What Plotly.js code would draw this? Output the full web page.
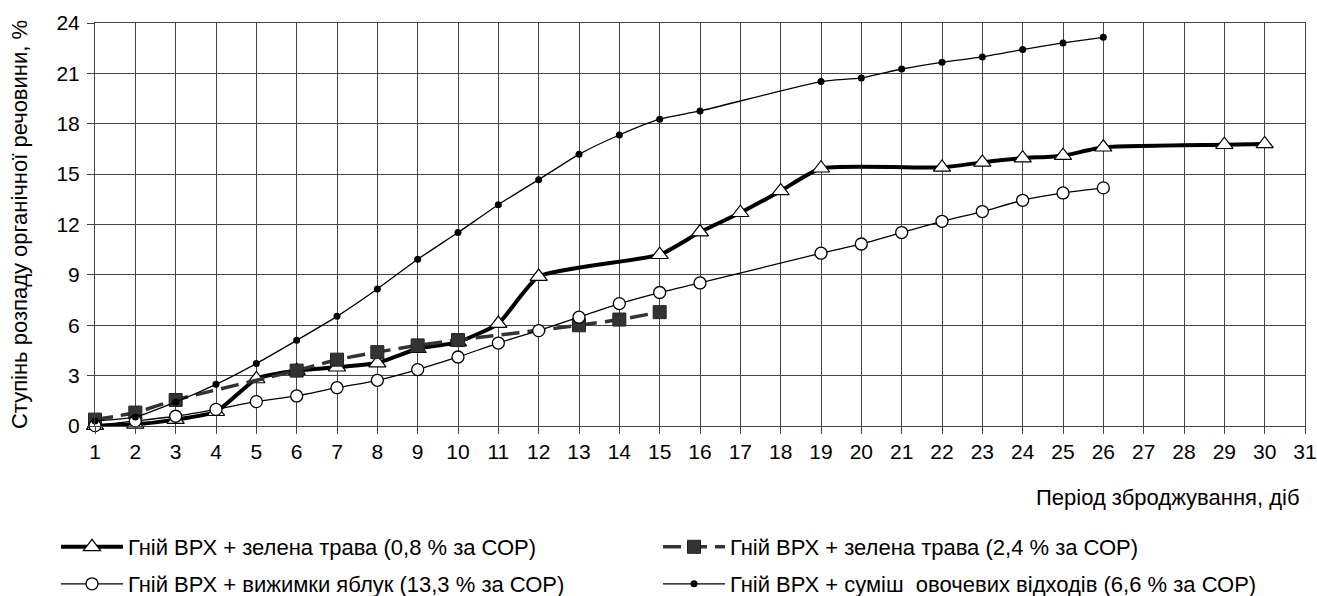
<!DOCTYPE html>
<html>
<head>
<meta charset="utf-8">
<script src="https://cdn.plot.ly/plotly-3.0.1.min.js"></script>
<style>
  html, body { margin: 0; padding: 0; background: #ffffff; }
  #chart { width: 1317px; height: 596px; }
</style>
</head>
<body>
<div id="chart"></div>
<script>
// ---- Data ----
const seriesNames = [
  "Гній ВРХ + зелена трава (0,8 % за СОР)",
  "Гній ВРХ + зелена трава (2,4 % за СОР)",
  "Гній ВРХ + вижимки яблук (13,3 % за СОР)",
  "Гній ВРХ + суміш  овочевих відходів (6,6 % за СОР)"
];

const grass08Days = [1, 2, 3, 4, 5, 6, 7, 8, 9, 10, 11, 12, 15, 16, 17, 18, 19, 22, 23, 24, 25, 26, 29, 30];
const grass08Vals = [0.02, 0.1, 0.38, 0.85, 2.8, 3.3, 3.5, 3.75, 4.6, 5.0, 6.1, 8.9, 10.2, 11.55, 12.7, 14.0, 15.35, 15.4, 15.7, 15.95, 16.1, 16.6, 16.75, 16.8];

const grass24Days = [1, 2, 3, 6, 7, 8, 9, 10, 13, 14, 15];
const grass24Vals = [0.38, 0.8, 1.55, 3.3, 3.95, 4.4, 4.8, 5.12, 6.0, 6.34, 6.78];

const appleDays = [1, 2, 3, 4, 5, 6, 7, 8, 9, 10, 11, 12, 13, 14, 15, 16, 19, 20, 21, 22, 23, 24, 25, 26];
const appleVals = [0.02, 0.3, 0.58, 0.99, 1.45, 1.79, 2.28, 2.72, 3.36, 4.11, 4.94, 5.68, 6.48, 7.29, 7.95, 8.52, 10.29, 10.84, 11.52, 12.19, 12.77, 13.44, 13.88, 14.18];

const vegDays = [1, 2, 3, 4, 5, 6, 7, 8, 9, 10, 11, 12, 13, 14, 15, 16, 19, 20, 21, 22, 23, 24, 25, 26];
const vegVals = [0.3, 0.54, 1.43, 2.48, 3.72, 5.1, 6.53, 8.16, 9.93, 11.52, 13.18, 14.67, 16.18, 17.33, 18.27, 18.76, 20.51, 20.73, 21.26, 21.66, 21.98, 22.42, 22.81, 23.15];

const xTickVals = [1,2,3,4,5,6,7,8,9,10,11,12,13,14,15,16,17,18,19,20,21,22,23,24,25,26,27,28,29,30,31];
const yTickVals = [0, 3, 6, 9, 12, 15, 18, 21, 24];

const yTitle = "Ступінь розпаду органічної речовини, %";
const xTitle = "Період зброджування, діб";

// ---- Traces ----
const FONT = "Liberation Sans, Arial, sans-serif";
const GRID = "#444444";
const traces = [
  {
    x: grass08Days, y: grass08Vals, name: seriesNames[0], legend: "legend",
    type: "scatter", mode: "lines+markers", cliponaxis: false,
    line: { color: "#000000", width: 4, shape: "spline", smoothing: 0.5 },
    marker: { symbol: "triangle-up", size: 15, color: "#ffffff", line: { color: "#000000", width: 1.2 } }
  },
  {
    x: grass24Days, y: grass24Vals, name: seriesNames[1], legend: "legend2",
    type: "scatter", mode: "lines+markers", cliponaxis: false,
    line: { color: "#333333", width: 3.5, dash: "18px,8px", shape: "spline", smoothing: 0.6 },
    marker: { symbol: "square", size: 13, color: "#333333", line: { color: "#222222", width: 1 } }
  },
  {
    x: appleDays, y: appleVals, name: seriesNames[2], legend: "legend3",
    type: "scatter", mode: "lines+markers", cliponaxis: false,
    line: { color: "#000000", width: 1.3, shape: "spline", smoothing: 0.6 },
    marker: { symbol: "circle", size: 12, color: "#ffffff", line: { color: "#000000", width: 1.3 } }
  },
  {
    x: vegDays, y: vegVals, name: seriesNames[3], legend: "legend4",
    type: "scatter", mode: "lines+markers", cliponaxis: false,
    line: { color: "#000000", width: 1.3, shape: "spline", smoothing: 0.6 },
    marker: { symbol: "circle", size: 7, color: "#000000", line: { color: "#000000", width: 0 } }
  }
];

// ---- Layout ----
const W = 1317, H = 596;
const plotL = 95, plotT = 23, plotW = 1210, plotH = 403;
function px2paperY(py) { return (plotT + plotH - py) / plotH; }

function legendAt(px, py) {
  return {
    xref: "container", yref: "container",
    x: px / W, xanchor: "left",
    y: 1 - py / H, yanchor: "middle",
    orientation: "h", bgcolor: "rgba(0,0,0,0)", borderwidth: 0,
    itemwidth: 62,
    font: { family: FONT, size: 22, color: "#000000" }
  };
}

const layout = {
  width: W, height: H,
  margin: { l: plotL, r: 12, t: plotT, b: 170, pad: 0 },
  paper_bgcolor: "#ffffff", plot_bgcolor: "#ffffff",
  font: { family: FONT, color: "#000000" },
  showlegend: true,
  legend: legendAt(56, 547),
  legend2: legendAt(658, 547),
  legend3: legendAt(56, 584),
  legend4: legendAt(658, 584),
  xaxis: {
    range: [1, 31], tickvals: xTickVals, ticktext: xTickVals.map(String),
    showgrid: true, gridcolor: GRID, gridwidth: 1,
    showline: true, linecolor: GRID, linewidth: 1, mirror: true,
    ticks: "outside", ticklen: 7, tickcolor: GRID, tickwidth: 1,
    tickfont: { family: FONT, size: 21, color: "#000000" },
    zeroline: false, fixedrange: true, automargin: false
  },
  yaxis: {
    range: [0, 24], tickvals: yTickVals,
    showgrid: true, gridcolor: GRID, gridwidth: 1,
    showline: true, linecolor: GRID, linewidth: 1, mirror: true,
    ticks: "outside", ticklen: 7, tickcolor: GRID, tickwidth: 1,
    ticklabelstandoff: 3,
    tickfont: { family: FONT, size: 21, color: "#000000" },
    zeroline: false, fixedrange: true, automargin: false,
    title: { text: yTitle, font: { family: FONT, size: 22, color: "#000000" }, standoff: 22 }
  },
  annotations: [
    {
      text: xTitle, xref: "paper", yref: "paper",
      x: 1, xanchor: "right", xshift: -3,
      y: px2paperY(497), yanchor: "middle",
      showarrow: false,
      font: { family: FONT, size: 22, color: "#000000" }
    }
  ]
};

Plotly.newPlot("chart", traces, layout, { displayModeBar: false, staticPlot: true });
</script>
</body>
</html>
